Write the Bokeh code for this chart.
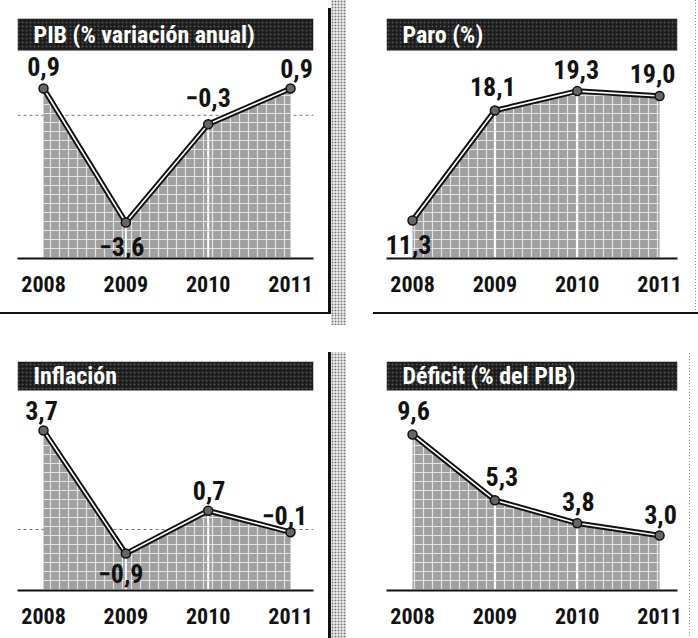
from bokeh.plotting import figure
from bokeh.models import Range1d, FixedTicker, BoxAnnotation, Label, Span, Div
from bokeh.layouts import row, column
from bokeh.embed import file_html
from bokeh.resources import INLINE
from bokeh.core.properties import value

# ---------------- data ----------------
years = [2008, 2009, 2010, 2011]
year_labels = ["2008", "2009", "2010", "2011"]
pib = [0.9, -3.6, -0.3, 0.9]
paro = [11.3, 18.1, 19.3, 19.0]
inflacion = [3.7, -0.9, 0.7, -0.1]
deficit = [9.6, 5.3, 3.8, 3.0]
titles = ["PIB (% variación anual)", "Paro (%)", "Inflación", "Déficit (% del PIB)"]

# ---------------- style ----------------
FONT = "Roboto Condensed, DejaVu Sans Condensed, Roboto, sans-serif"
INK = "#111111"


def fmt(v):
    return f"{v:.1f}".replace(".", ",").replace("-", "\u2212")


def panel(vals, title, width, height, bl, br, bt, bb, xr, yr, bar_px, dx, dy, zero_line):
    p = figure(width=width, height=height, output_backend="svg", toolbar_location=None,
               x_range=Range1d(*xr), y_range=Range1d(*yr), y_axis_location=None,
               min_border_left=bl, min_border_right=br, min_border_top=bt, min_border_bottom=bb,
               background_fill_color="white", border_fill_color="white", outline_line_color=None)
    p.grid.visible = False
    fh = height - bt - bb
    vpp = (yr[1] - yr[0]) / fh

    if zero_line:
        sp = Span(location=0, dimension="width", line_color="#777777", line_dash="3 3", line_width=1)
        sp.level = "underlay"
        p.add_layout(sp)

    # shaded area
    p.varea(x=years, y1=yr[0], y2=vals, fill_color="#a0a0a0", fill_alpha=1,
            hatch_pattern="+", hatch_color="white", hatch_scale=9, hatch_weight=1.2, hatch_alpha=0.7)
    p.segment(x0=years[1:3], y0=yr[0], x1=years[1:3], y1=vals[1:3], line_color="white", line_width=2)

    # double line
    p.line(years, vals, line_color=INK, line_width=5.5, line_join="round")
    p.line(years, vals, line_color="white", line_width=1.6, line_join="round")
    p.scatter(years, vals, size=9, fill_color="#666666", line_color=INK, line_width=1.5)

    # value labels
    p.text(x=years, y=vals, text=[fmt(v) for v in vals], x_offset=dx, y_offset=dy,
           text_font=value(FONT), text_font_style="bold", text_font_size="26px",
           text_color=INK, text_align="center", text_baseline="middle")

    # title bar
    bar_bottom = yr[1] - bar_px * vpp
    p.add_layout(BoxAnnotation(bottom=bar_bottom, fill_color="#1c1c1c", fill_alpha=1, line_color=None,
                               hatch_pattern="dot", hatch_color="#6a6a6a", hatch_scale=4, hatch_alpha=0.7))
    p.add_layout(Label(x=xr[0], y=yr[1] - bar_px / 2 * vpp, x_offset=16, text=title,
                       text_color="white", text_font=FONT, text_font_style="bold",
                       text_font_size="24px", text_baseline="middle"))

    ax = p.xaxis[0]
    ax.ticker = FixedTicker(ticks=years)
    ax.major_label_overrides = {y: l for y, l in zip(years, year_labels)}
    ax.major_tick_line_color = None
    ax.minor_tick_line_color = None
    ax.axis_line_color = INK
    ax.axis_line_width = 2
    ax.major_label_standoff = 11
    ax.major_label_text_font = FONT
    ax.major_label_text_font_style = "bold"
    ax.major_label_text_font_size = "22px"
    ax.major_label_text_color = INK
    return p


XR_L = (2007.684, 2011.279)
XR_R = (2007.684, 2011.218)

tl = panel(pib, titles[0], 328, 312, 17, 15, 18, 54, XR_L, (-4.809, 3.251), 32,
           [0, -4, 0, 6], [-22, 24, -27, -20], True)
tr = panel(paro, titles[1], 349, 312, 40, 18, 18, 54, XR_R, (8.95, 23.79), 32,
           [-4, -2, -1, -7], [24, -24, -22, -22], False)
bl = panel(inflacion, titles[2], 328, 324, 17, 15, 47, 48, XR_L, (-2.28, 6.28), 29,
           [-2, -5, 1, -6], [-20, 20, -20, -17], True)
br = panel(deficit, titles[3], 343, 324, 40, 12, 47, 48, XR_R, (-0.60, 14.37), 29,
           [1, 7, 1, 1], [-24, -24, -22, -21], False)

STRIP = {"background-color": "#e6e6e6",
         "background-image": "radial-gradient(circle, #777777 0.8px, transparent 1.1px)",
         "background-size": "3px 3px"}


def div(w, h, styles):
    return Div(text="", width=w, height=h, margin=0, styles=styles)


WHITE = {"background-color": "white"}
THIN = {"background-image": "linear-gradient(to bottom, #8a8a8a 50%, transparent 50%)",
        "background-size": "1px 3px"}

top = row(tl, div(3, 312, {"background": "linear-gradient(to bottom, #ffffff 0px, #ffffff 8px, #111111 8px)"}),
          div(15, 312, STRIP), tr, div(1, 312, THIN), div(2, 312, WHITE), spacing=0)
hline = row(div(331, 2, {"background-color": INK}), div(15, 2, STRIP),
            div(27, 2, WHITE), div(325, 2, {"background-color": INK}), spacing=0)
strip_bottom = dict(STRIP)
strip_bottom["background-image"] = ("linear-gradient(to bottom, transparent 0px, transparent 11px, #ffffff 11px, "
                                    "#ffffff 38px, transparent 38px), "
                                    "radial-gradient(circle, #777777 0.8px, transparent 1.1px)")
strip_bottom["background-size"] = "100% 100%, 3px 3px"
thin_bottom = {"background-image": "linear-gradient(to bottom, #ffffff 0px, #ffffff 37px, transparent 37px), "
                                   "linear-gradient(to bottom, #8a8a8a 50%, transparent 50%)",
               "background-size": "100% 100%, 1px 3px"}
bottom = row(bl,
             div(3, 324, {"background": "linear-gradient(to bottom, #ffffff 0px, #ffffff 38px, #111111 38px)"}),
             div(15, 324, strip_bottom), br, div(1, 324, thin_bottom), div(8, 324, WHITE), spacing=0)

layout = column(top, hline, bottom, spacing=0)

open("out.html", "w").write(file_html(layout, INLINE))
